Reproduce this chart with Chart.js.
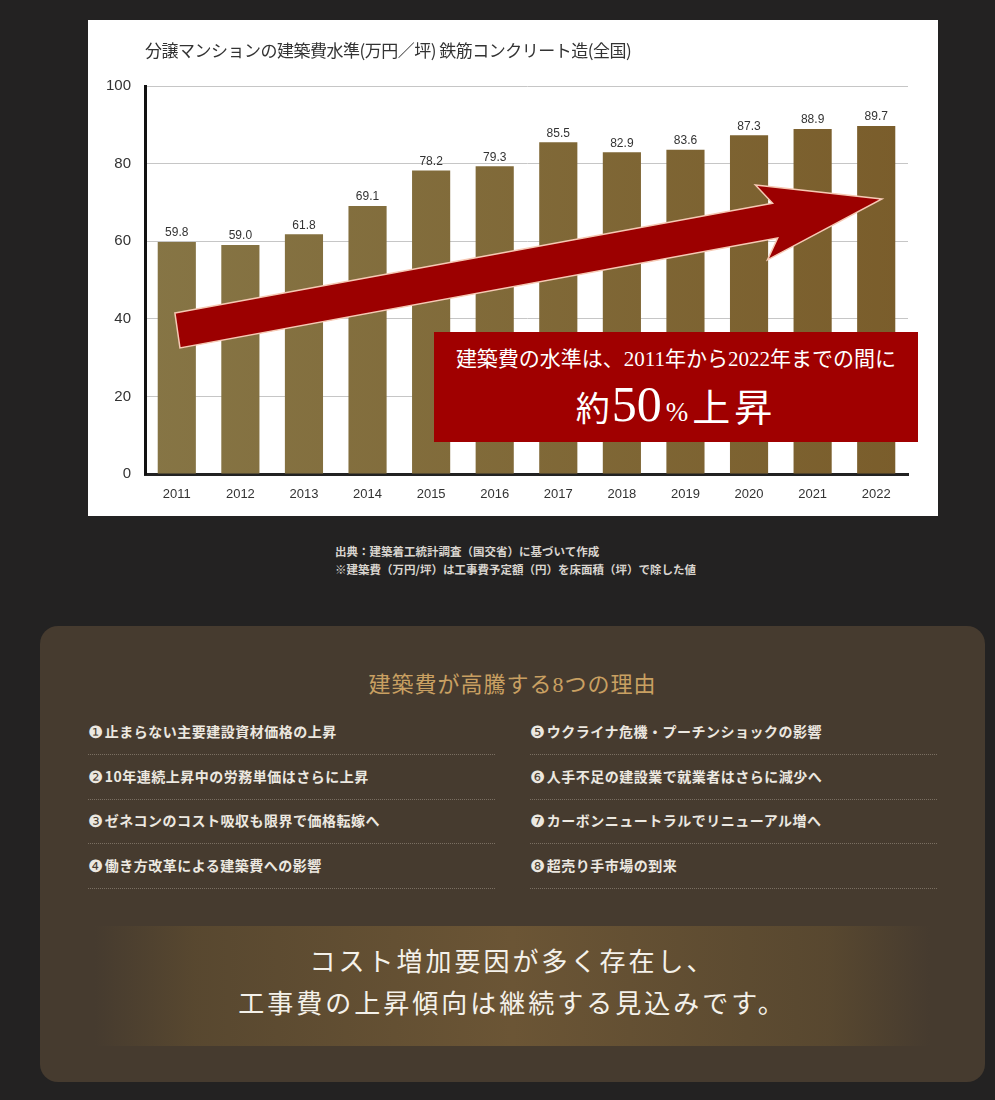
<!DOCTYPE html>
<html lang="ja">
<head>
<meta charset="utf-8">
<title>建築費水準</title>
<script src="https://cdn.jsdelivr.net/npm/chart.js@4"></script>
<style>
  html, body { margin: 0; padding: 0; }
  body {
    width: 995px; height: 1100px; background: #232222; position: relative; overflow: hidden;
    font-family: "Noto Sans CJK JP", "Noto Sans", sans-serif;
  }
  #card { position: absolute; left: 88px; top: 20px; width: 850px; height: 496px; background: #fff; }
  #card canvas { position: absolute; left: 0; top: 0; }
  #ttl { position: absolute; left: 57px; top: 17px; font-size: 17px; color: #333; letter-spacing: -0.5px; }
  #box {
    position: absolute; left: 346px; top: 312px; width: 484px; height: 110px; background: #a00000;
    color: #fff; text-align: center; font-family: "Liberation Serif", "Noto Sans CJK JP", serif;
  }
  #box .l1 { font-size: 21px; margin-top: 14px; line-height: 26px; }
  #box .l2 { margin-top: 2px; line-height: 60px; white-space: nowrap; }
  #box .a { font-size: 34px; }
  #box .b { font-size: 50px; margin-left: 2px; }
  #box .c { font-size: 27px; margin: 0 4px; }
  #box .d { font-size: 38px; letter-spacing: 4px; }
  #note {
    position: absolute; left: 335px; top: 542px; font-size: 11.5px; line-height: 18px; color: #d9d5cf;
    font-weight: bold;
  }
  #panel {
    position: absolute; left: 40px; top: 626px; width: 945px; height: 456px; background: #463b2f;
    border-radius: 18px;
  }
  #panel h2 {
    position: absolute; left: 0; width: 945px; top: 40px; margin: 0; text-align: center;
    font-size: 22px; font-weight: normal; color: #c9a062; letter-spacing: 1px;
    font-family: "Liberation Serif", "Noto Sans CJK JP", serif;
  }
  .item {
    position: absolute; width: 407px; height: 33px; padding-top: 11px; border-bottom: 1px dotted #7a6f62;
    color: #ece8e0; font-size: 14px; font-weight: bold; line-height: 20px; letter-spacing: 0.5px;
  }
  .item span.n { font-family: "DejaVu Sans"; font-weight: normal; font-size: 17px; margin-right: 1px; vertical-align: -1px; }
  #band {
    position: absolute; left: 55px; top: 300px; width: 835px; height: 120px;
    background: linear-gradient(90deg, rgba(110,88,52,0) 0%, rgba(100,80,48,0.6) 12%, #6b5535 50%, rgba(100,80,48,0.6) 88%, rgba(110,88,52,0) 100%);
    color: #f4f1ea; text-align: center; font-size: 26px; line-height: 42px; letter-spacing: 3px;
    font-family: "Liberation Serif", "Noto Sans CJK JP", serif;
  }
  #band div:first-child { margin-top: 16px; }
</style>
</head>
<body>
<div id="card">
  <canvas id="myChart" width="850" height="496"></canvas>
  <div id="ttl">分譲マンションの建築費水準(万円／坪) 鉄筋コンクリート造(全国)</div>
  <div id="box">
    <div class="l1">建築費の水準は、2011年から2022年までの間に</div>
    <div class="l2"><span class="a">約</span><span class="b">50</span><span class="c">%</span><span class="d">上昇</span></div>
  </div>
</div>
<div id="note">
  出典：建築着工統計調査（国交省）に基づいて作成<br>
  ※建築費（万円/坪）は工事費予定額（円）を床面積（坪）で除した値
</div>
<div id="panel">
  <h2>建築費が高騰する8つの理由</h2>
  <div id="items"></div>
  <div id="band">
    <div>コスト増加要因が多く存在し、</div>
    <div>工事費の上昇傾向は継続する見込みです。</div>
  </div>
</div>

<script>
const years = ['2011','2012','2013','2014','2015','2016','2017','2018','2019','2020','2021','2022'];
const costLevel = [59.8, 59.0, 61.8, 69.1, 78.2, 79.3, 85.5, 82.9, 83.6, 87.3, 88.9, 89.7];
const yTicks = [0, 20, 40, 60, 80, 100];
const reasonsLeft = ['止まらない主要建設資材価格の上昇', '10年連続上昇中の労務単価はさらに上昇', 'ゼネコンのコスト吸収も限界で価格転嫁へ', '働き方改革による建築費への影響'];
const reasonsRight = ['ウクライナ危機・プーチンショックの影響', '人手不足の建設業で就業者はさらに減少へ', 'カーボンニュートラルでリニューアル増へ', '超売り手市場の到来'];
const marks = ['❶','❷','❸','❹','❺','❻','❼','❽'];

// reason list
const itemsEl = document.getElementById('items');
function addItems(list, offset, left) {
  list.forEach(function(txt, i) {
    const d = document.createElement('div');
    d.className = 'item';
    d.style.left = left + 'px';
    d.style.top = (84 + i * 44.5) + 'px';
    d.innerHTML = '<span class="n">' + marks[offset + i] + '</span>' + txt;
    itemsEl.appendChild(d);
  });
}
addItems(reasonsLeft, 0, 48);
addItems(reasonsRight, 4, 490);

// arrow in data units: [category index, value]
const arrowPts = [[-0.03, 41.5], [9.37, 69.8], [9.10, 74.5], [11.09, 70.9], [9.29, 55.2], [9.45, 60.8], [0.05, 32.5]];

const extras = {
  id: 'extras',
  afterDatasetsDraw(chart) {
    const c = chart.ctx, xs = chart.scales.x, ys = chart.scales.y;
    const meta = chart.getDatasetMeta(0);
    c.save();
    c.font = '12px "Liberation Sans", Arial, sans-serif';
    c.fillStyle = '#333';
    c.textAlign = 'center';
    c.textBaseline = 'bottom';
    meta.data.forEach(function(bar, i) {
      c.fillText(costLevel[i].toFixed(1), bar.x, bar.y - 3);
    });
    c.beginPath();
    arrowPts.forEach(function(p, i) {
      const px = xs.getPixelForValue(p[0]);
      const py = ys.getPixelForValue(p[1]);
      if (i === 0) c.moveTo(px, py); else c.lineTo(px, py);
    });
    c.closePath();
    c.fillStyle = '#9c0000';
    c.fill();
    c.lineWidth = 1.5;
    c.strokeStyle = '#f6c9b4';
    c.stroke();
    c.restore();
  }
};

const ctx = document.getElementById('myChart');
const myChart = new Chart(ctx, {
  type: 'bar',
  data: {
    labels: years,
    datasets: [{
      data: costLevel,
      backgroundColor: function(context) {
        const area = context.chart.chartArea;
        if (!area) return '#80703f';
        const g = context.chart.ctx.createLinearGradient(area.left, 0, area.right, 0);
        g.addColorStop(0, '#867545');
        g.addColorStop(1, '#7a5d2b');
        return g;
      },
      barPercentage: 0.6,
      categoryPercentage: 1.0
    }]
  },
  options: {
    responsive: false,
    animation: false,
    layout: { padding: { top: 66, right: 30, left: 0, bottom: 0 } },
    plugins: { legend: { display: false }, tooltip: { enabled: false } },
    scales: {
      x: {
        grid: { display: false },
        border: { color: '#222', width: 3 },
        ticks: { color: '#333', font: { size: 13, family: '"Liberation Sans", Arial, sans-serif' }, padding: 5 },
        afterFit: function(s) { s.height = 42; }
      },
      y: {
        min: 0, max: 100,
        afterBuildTicks: function(s) { s.ticks = yTicks.map(function(v) { return { value: v }; }); },
        grid: { color: '#c6c6c6', lineWidth: 1, drawTicks: false },
        border: { color: '#111', width: 3 },
        ticks: { color: '#333', font: { size: 15, family: '"Liberation Sans", Arial, sans-serif' }, padding: 14 },
        afterFit: function(s) { s.width = 57; }
      }
    }
  },
  plugins: [extras]
});
</script>
</body>
</html>
